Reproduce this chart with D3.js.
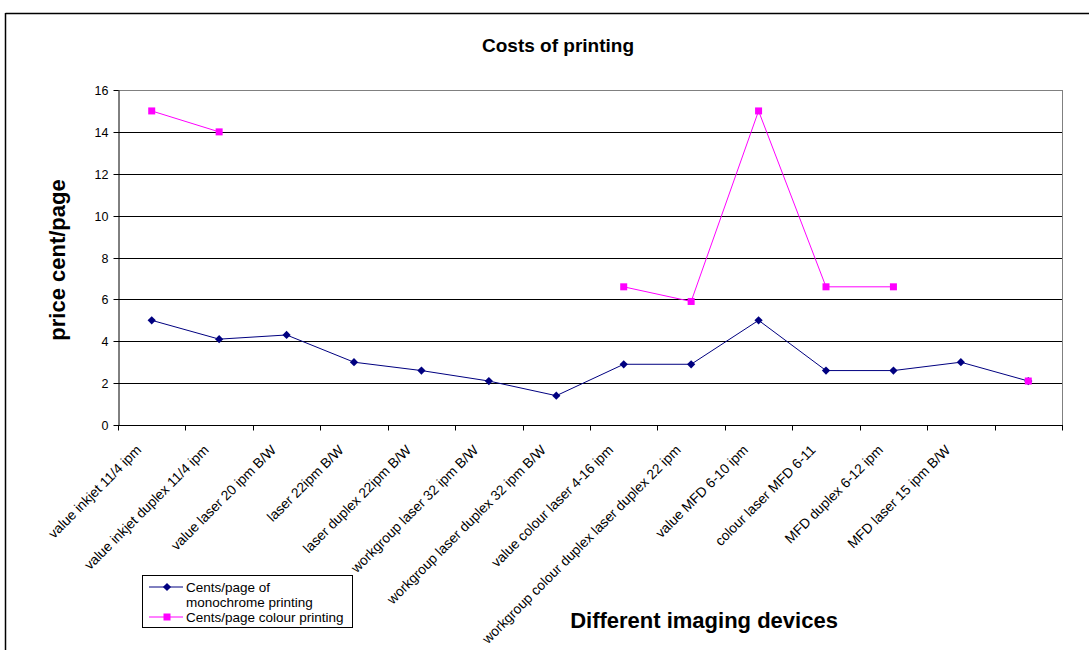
<!DOCTYPE html>
<html><head><meta charset="utf-8">
<script src="https://cdn.jsdelivr.net/npm/d3@7"></script>
<style>body{margin:0;background:#fff}svg{display:block;font-family:"Liberation Sans",Arial,sans-serif}</style>
</head><body>
<svg id="c" width="1089" height="650"></svg>
<script>
const categories = ["value inkjet 11/4 ipm","value inkjet duplex 11/4 ipm","value laser 20 ipm B/W","laser 22ipm B/W","laser duplex 22ipm B/W","workgroup laser 32 ipm B/W","workgroup laser duplex 32 ipm B/W","value colour laser 4-16 ipm","workgroup colour duplex laser duplex 22 ipm","value MFD 6-10 ipm","colour laser MFD 6-11","MFD duplex 6-12 ipm","MFD laser 15 ipm B/W",""];
const mono = [5, 4.1, 4.3, 3, 2.6, 2.1, 1.4, 2.9, 2.9, 5, 2.6, 2.6, 3, 2.1];
const colour = [15, 14, null, null, null, null, null, 6.6, 5.9, 15, 6.6, 6.6, null, 2.1];
const yTicks = [0,2,4,6,8,10,12,14,16];
const seriesNames = ["Cents/page of", "monochrome printing", "Cents/page colour printing"];

const svg = d3.select("#c");
const L=118, R=1062, T=90, B=425;
// outer frame
svg.append("line").attr("x1",5.5).attr("x2",1089).attr("y1",13.5).attr("y2",13.5).attr("stroke","#000").attr("stroke-width",1.5);
svg.append("line").attr("x1",5.5).attr("x2",5.5).attr("y1",13).attr("y2",650).attr("stroke","#000").attr("stroke-width",1.5);

const x = d3.scaleBand().domain(d3.range(categories.length)).range([L,R]);
const y = d3.scaleLinear().domain([0,16]).range([B,T]);

svg.append("text").attr("x",558).attr("y",52).attr("text-anchor","middle").attr("font-weight","bold").attr("font-size",19).text("Costs of printing");

// gridlines
svg.append("g").selectAll("line").data(yTicks.filter(d=>d>0)).join("line")
 .attr("x1",L).attr("x2",R).attr("y1",d=>Math.round(y(d))+0.5).attr("y2",d=>Math.round(y(d))+0.5)
 .attr("stroke",d=>d===16?"#808080":"#000").attr("stroke-width",1);
svg.append("line").attr("x1",R+0.5).attr("x2",R+0.5).attr("y1",T).attr("y2",B).attr("stroke","#808080");

// y axis
const ya = svg.append("g").attr("transform",`translate(${L+0.5},0)`).call(d3.axisLeft(y).tickValues(yTicks).tickSize(5).tickSizeOuter(0));
ya.select(".domain").attr("stroke","#000");
ya.selectAll("text").attr("font-size",12.5).attr("font-family","Liberation Sans, Arial").attr("fill","#000").attr("dx","-2");
ya.selectAll(".tick line").each(function(d){ d3.select(this.parentNode).attr("transform",`translate(0,${Math.round(y(d))+0.5})`); });

// x axis
const xa = svg.append("g").attr("transform",`translate(0,${B+0.5})`);
xa.append("line").attr("x1",L).attr("x2",R+1).attr("stroke","#000");
xa.selectAll("line.t").data(d3.range(categories.length+1)).join("line").attr("class","t")
 .attr("x1",i=>Math.round(L+i*x.step())+0.5).attr("x2",i=>Math.round(L+i*x.step())+0.5).attr("y1",0).attr("y2",5).attr("stroke","#000");
xa.selectAll("text").data(categories).join("text")
 .attr("transform",(d,i)=>`translate(${x(i)+x.bandwidth()/2-13},${22}) rotate(-45)`)
 .attr("text-anchor","end").attr("font-size",13.8).attr("dy","0.35em").text(d=>d);

// axis titles
svg.append("text").attr("transform","translate(65,260) rotate(-90)").attr("text-anchor","middle").attr("font-weight","bold").attr("font-size",22).text("price cent/page");
svg.append("text").attr("x",704).attr("y",628).attr("text-anchor","middle").attr("font-weight","bold").attr("font-size",22).text("Different imaging devices");

const cx = i=>x(i)+x.bandwidth()/2;
const line = d3.line().defined(d=>d!=null).x((d,i)=>cx(i)).y(d=>y(d));
svg.append("path").attr("d",line(mono)).attr("fill","none").attr("stroke","#000080").attr("stroke-width",1);
svg.append("path").attr("d",line(colour)).attr("fill","none").attr("stroke","#FF00FF").attr("stroke-width",1);
const diamond = d3.symbol().type(d3.symbolSquare).size(34);
svg.append("g").selectAll("path").data(mono).join("path")
 .attr("transform",(d,i)=>`translate(${cx(i)},${y(d)}) rotate(45)`).attr("d",diamond()).attr("fill","#000080");
svg.append("g").selectAll("rect").data(colour.map((v,i)=>({v,i})).filter(d=>d.v!=null)).join("rect")
 .attr("x",d=>cx(d.i)-3.5).attr("y",d=>y(d.v)-3.5).attr("width",7).attr("height",7).attr("fill","#FF00FF");

// legend
const lg = svg.append("g");
lg.append("rect").attr("x",142.5).attr("y",575.5).attr("width",210).attr("height",52).attr("fill","#fff").attr("stroke","#000");
lg.append("line").attr("x1",149).attr("x2",183).attr("y1",587).attr("y2",587).attr("stroke","#000080");
lg.append("path").attr("transform","translate(167,587) rotate(45)").attr("d",diamond()).attr("fill","#000080");
lg.append("text").attr("x",186).attr("y",592).attr("font-size",13.5).text(seriesNames[0]);
lg.append("text").attr("x",186).attr("y",607).attr("font-size",13.5).text(seriesNames[1]);
lg.append("line").attr("x1",149).attr("x2",183).attr("y1",617).attr("y2",617).attr("stroke","#FF00FF");
lg.append("rect").attr("x",163.5).attr("y",613.5).attr("width",7).attr("height",7).attr("fill","#FF00FF");
lg.append("text").attr("x",186).attr("y",622).attr("font-size",13.5).text(seriesNames[2]);
</script>
</body></html>
